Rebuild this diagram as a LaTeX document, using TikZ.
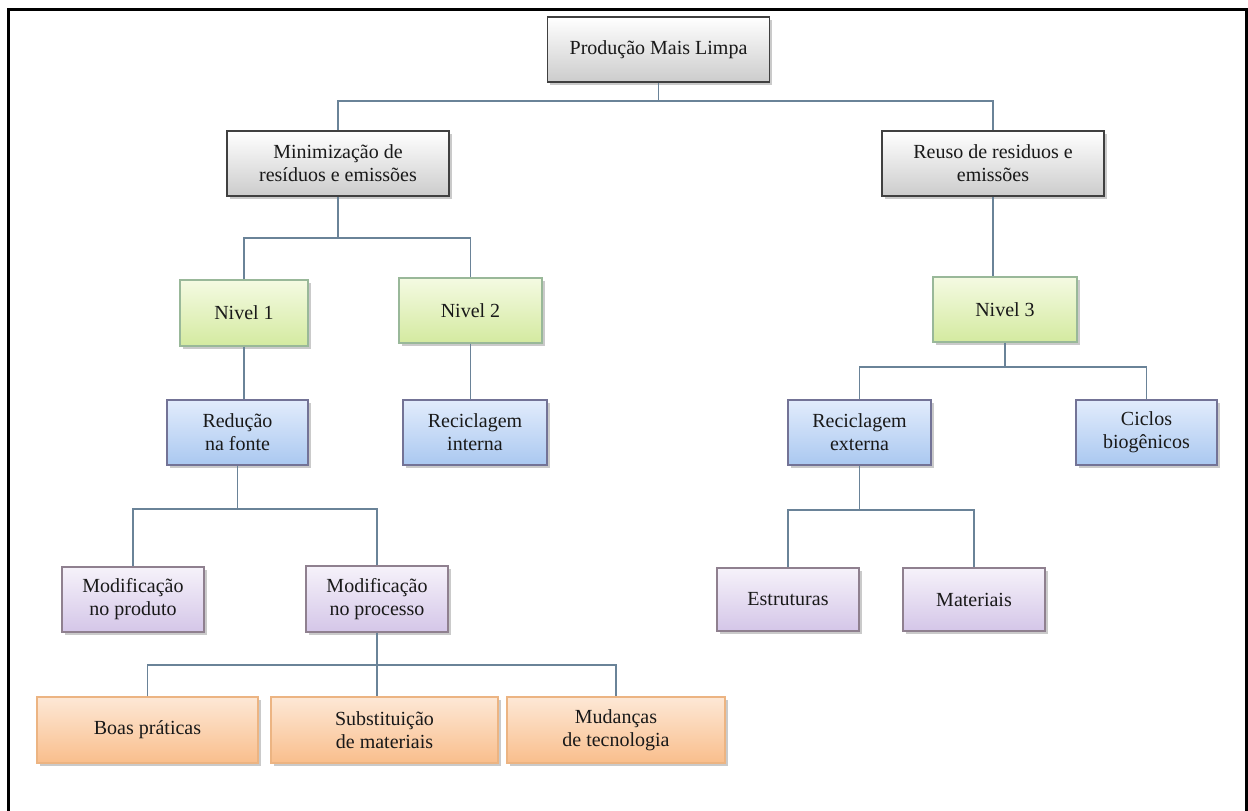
\documentclass[tikz,border=0pt]{standalone}
\usepackage{fontspec}
\setmainfont{Liberation Serif}
\usetikzlibrary{shadows}
\definecolor{conncol}{HTML}{6A8398}
\tikzset{
  conn/.style={draw=conncol, line width=1.3pt},
  basebox/.style={rectangle, align=center, inner sep=2pt,
    font=\fontsize{20}{23}\selectfont, text=black!90,
    drop shadow={shadow xshift=2.5pt, shadow yshift=-3pt, opacity=0.35, fill=black!60},
    line width=1.2pt},
  graybox/.style={basebox, draw=black!75, top color=white, bottom color=black!20, line width=1.6pt},
  greenbox/.style={basebox, draw=green!30!black!40, top color={rgb,255:red,244;green,250;blue,226}, bottom color={rgb,255:red,212;green,234;blue,160}},
  bluebox/.style={basebox, draw=blue!25!black!55, top color={rgb,255:red,226;green,236;blue,252}, bottom color={rgb,255:red,170;green,200;blue,240}},
  purplebox/.style={basebox, draw=violet!25!black!50, top color={rgb,255:red,246;green,242;blue,250}, bottom color={rgb,255:red,212;green,198;blue,232}},
  orangebox/.style={basebox, draw={rgb,255:red,236;green,180;blue,130}, top color={rgb,255:red,253;green,232;blue,214}, bottom color={rgb,255:red,249;green,190;blue,140}},
}
\begin{document}
\begin{tikzpicture}[x=1pt,y=-1pt]
\useasboundingbox (0,0) rectangle (1248,811);
\draw[line width=3pt, black] (8,811) -- (8,9) -- (1246,9) -- (1246,811);

% nodes
\node[graybox, minimum width=222pt, minimum height=65pt] (top) at (658.5,49.5) {Produção Mais Limpa};
\node[graybox, minimum width=222pt, minimum height=65pt] (min) at (338,163.5) {Minimização de\\resíduos e emissões};
\node[graybox, minimum width=222pt, minimum height=65pt] (reuso) at (993,163.5) {Reuso de residuos e\\emissões};

\node[greenbox, minimum width=128pt, minimum height=66pt] (n1) at (244,313) {Nivel 1};
\node[greenbox, minimum width=143pt, minimum height=65pt] (n2) at (470.5,310.5) {Nivel 2};
\node[greenbox, minimum width=144pt, minimum height=65pt] (n3) at (1005,309.5) {Nivel 3};

\node[bluebox, minimum width=141pt, minimum height=65pt] (red) at (237.5,432.5) {Redução\\na fonte};
\node[bluebox, minimum width=144pt, minimum height=65pt] (recint) at (475,432.5) {Reciclagem\\interna};
\node[bluebox, minimum width=143pt, minimum height=65pt] (recext) at (859.5,432.5) {Reciclagem\\externa};
\node[bluebox, minimum width=141pt, minimum height=65pt] (ciclos) at (1146.5,432.5) {Ciclos\\biogênicos};

\node[purplebox, minimum width=142pt, minimum height=65pt] (modprod) at (133,599.5) {Modificação\\no produto};
\node[purplebox, minimum width=142pt, minimum height=66pt] (modproc) at (377,599) {Modificação\\no processo};
\node[purplebox, minimum width=142pt, minimum height=63pt] (estr) at (788,599.5) {Estruturas};
\node[purplebox, minimum width=142pt, minimum height=63pt] (mat) at (974,599.5) {Materiais};

\node[orangebox, minimum width=221pt, minimum height=66pt] (boas) at (147.5,730) {Boas práticas};
\node[orangebox, minimum width=227pt, minimum height=66pt] (subst) at (384.5,730) {Substituição\\de materiais};
\node[orangebox, minimum width=218pt, minimum height=66pt] (mud) at (616,730) {Mudanças\\de tecnologia};

% junctions
\coordinate (jtop) at (top.south |- 0,101);
\coordinate (jmin) at (min.south |- 0,238);
\coordinate (jn3) at (n3.south |- 0,367);
\coordinate (jred) at (red.south |- 0,509);
\coordinate (jext) at (recext.south |- 0,510);
\coordinate (jproc) at (modproc.south |- 0,665);

% connectors
\draw[conn] (top.south) -- (jtop);
\draw[conn] (min.north) |- (jtop) -| (reuso.north);

\draw[conn] (min.south) -- (jmin);
\draw[conn] (n1.north) |- (jmin) -| (n2.north);
\draw[conn] (reuso.south) -- (reuso.south |- n3.north);

\draw[conn] (n1.south) -- (red.north -| n1.south);
\draw[conn] (n2.south) -- (recint.north -| n2.south);

\draw[conn] (n3.south) -- (jn3);
\draw[conn] (recext.north) |- (jn3) -| (ciclos.north);

\draw[conn] (red.south) -- (jred);
\draw[conn] (modprod.north) |- (jred) -| (modproc.north);

\draw[conn] (recext.south) -- (jext);
\draw[conn] (estr.north) |- (jext) -| (mat.north);

\draw[conn] (modproc.south) -- (jproc);
\draw[conn] (jproc) -- (subst.north -| jproc);
\draw[conn] (boas.north) |- (jproc) -| (mud.north);
\end{tikzpicture}
\end{document}
